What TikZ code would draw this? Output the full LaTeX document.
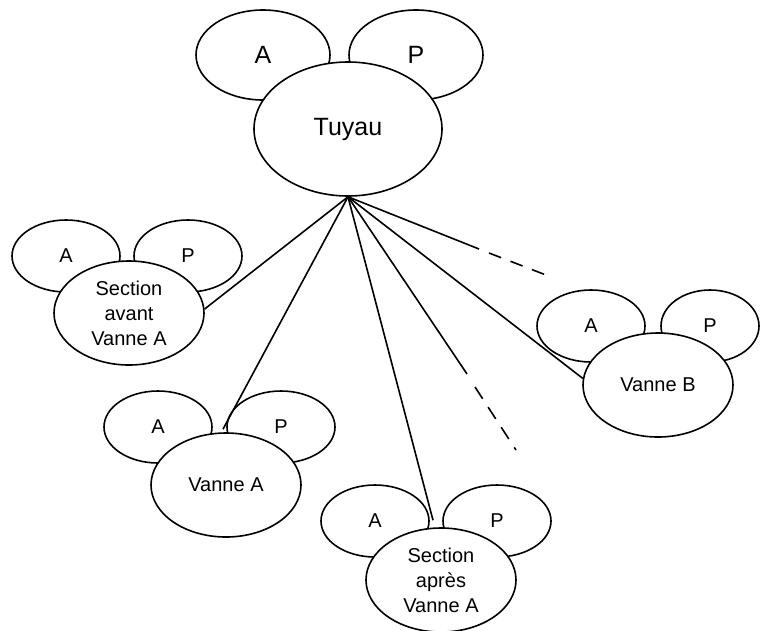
\documentclass[tikz,border=0pt]{standalone}
\usepackage{fontspec}
\setmainfont{Liberation Sans}
\usetikzlibrary{shapes.geometric}
\begin{document}
\begin{tikzpicture}[x=1pt,y=-1pt,
  ell/.style={ellipse,draw,line width=1.6pt,fill=white,inner sep=0pt,align=center},
  smallell/.style={ell,minimum width=108pt,minimum height=72pt,font=\fontsize{20}{25}\selectfont},
  mainell/.style={ell,minimum width=150pt,minimum height=104pt,font=\fontsize{20}{25}\selectfont},
  bigsmall/.style={ell,minimum width=134pt,minimum height=90pt,font=\fontsize{25}{30}\selectfont},
  bigmain/.style={ell,minimum width=188pt,minimum height=134pt,font=\fontsize{25}{30}\selectfont},
  conn/.style={line width=1.6pt},
  dashconn/.style={line width=1.6pt,dash pattern=on 13pt off 10pt}]
\path[use as bounding box] (0,0) rectangle (760,630);

% Tuyau group
\node[bigsmall] (tA) at (263,55) {A};
\node[bigsmall] (tP) at (416,55) {P};
\node[bigmain] (tuyau) at (348,129) {Tuyau};

% Section avant Vanne A
\node[smallell] (savA) at (66,256) {A};
\node[smallell] (savP) at (188,256) {P};
\node[mainell] (sav) at (129,313) {Section\\avant\\Vanne A};

% Vanne A
\node[smallell] (vaA) at (158,427) {A};
\node[smallell] (vaP) at (281,427) {P};
\node[mainell] (va) at (226,485) {Vanne A};

% Section apres Vanne A
\node[smallell] (sapA) at (375,521) {A};
\node[smallell] (sapP) at (497,521) {P};
\node[mainell] (sap) at (441,580) {Section\\après\\Vanne A};

% Vanne B
\node[smallell] (vbA) at (591,326) {A};
\node[smallell,minimum width=98pt] (vbP) at (710,326) {P};
\node[mainell] (vb) at (658,385) {Vanne B};

% connectors
\coordinate (d1a) at (479,249);
\coordinate (d1b) at (489,253);
\coordinate (d1e) at (546,275);
\coordinate (d2a) at (467,374);
\coordinate (d2b) at (475,387);
\coordinate (d2e) at (516,450);

\draw[conn] (tuyau.south) -- (sav.3);
\draw[conn] (tuyau.south) -- ([xshift=-3pt,yshift=3pt]va.north);
\draw[conn] (tuyau.south) -- ([xshift=-8pt,yshift=7pt]sap.north);
\draw[conn] (tuyau.south) -- (vb.175);
\draw[conn] (tuyau.south) -- (d1a);
\draw[dashconn] (d1b) -- (d1e);
\draw[conn] (tuyau.south) -- (d2a);
\draw[dashconn,dash pattern=on 14pt off 10pt] (d2b) -- (d2e);
\end{tikzpicture}
\end{document}
